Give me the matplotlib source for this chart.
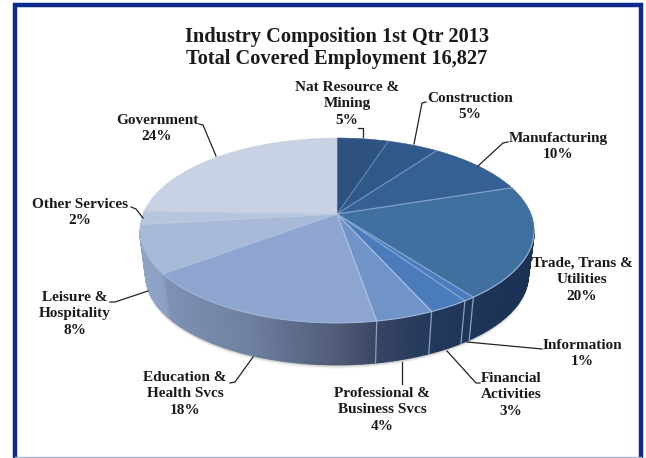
import numpy as np
import matplotlib
matplotlib.use("Agg")
import matplotlib.pyplot as plt
from matplotlib.transforms import Transform

# ----------------------
# Data
# ----------------------
sectors = [
    "Nat Resource &\nMining", "Construction", "Manufacturing",
    "Trade, Trans &\nUtilities", "Information", "Financial\nActivities",
    "Professional &\nBusiness Svcs", "Education &\nHealth Svcs",
    "Leisure &\nHospitality", "Other Services", "Government",
]
# rounded shares printed on the labels
printed_pct = [5, 5, 10, 20, 1, 3, 4, 18, 8, 2, 24]
# slice sizes
slice_size = [5, 5, 10, 19.7, 0.8, 2.8, 4.0, 17.5, 8.4, 2.3, 24.5]

top_colors = ["#2e5280", "#30598a", "#365f93", "#40709f", "#4a7dbd", "#4a7cbb",
              "#7094c8", "#8ea6cf", "#a9bad8", "#b6c5de", "#c8d2e4"]
seam_colors = ["#5f82ad", "#6f92bd", "#7f9fca", "#86a6d2", "#86a6d2", "#a6c0e4",
               "#a6c0e4", "#a9bfe0", "#bccae0", "#c0cce0", None]

label_xy = [(347, 87), (470, 98), (558, 138), (582, 263), (582, 345), (511, 378),
            (382, 393), (185, 377), (75, 297), (80, 204), (157, 120)]

leaders = [
    [(358, 128), (363, 128), (363, 137)],
    [(426, 102), (422, 103), (414, 144)],
    [(508, 142), (503, 143), (478, 166)],
    None,
    [(542, 349), (467, 342)],
    [(480, 383), (476, 383), (447, 351)],
    [(402, 384), (402, 362)],
    [(230, 383), (235, 382), (253, 357)],
    [(110, 302), (115, 302), (148, 291)],
    [(131, 207), (136, 209), (143, 218)],
    [(199, 124), (203, 125), (216, 156)],
]

# ----------------------
# Pie geometry (tilted disc)
# ----------------------
CX, CY = 337, 214
RX, RY = 194, 89.5
TILT = 0.178
BASE_SCALE = 0.97   # bottom disc looks a little smaller
BASE_DROP = 45


class TiltedDisc(Transform):
    input_dims = 2
    output_dims = 2

    def transform_non_affine(self, values):
        x, y = np.asarray(values).T
        w = 1 + TILT * y
        return np.column_stack([CX + RX * x / w, CY - RY * y / w])


def rim(phi):
    # phi in degrees, clockwise from 12 o'clock
    rad = np.radians(phi)
    return TiltedDisc().transform_non_affine(np.column_stack([np.sin(rad), np.cos(rad)]))


def base_rim(phi):
    p = rim(phi)
    return np.column_stack([CX + (p[:, 0] - CX) * BASE_SCALE,
                            CY + (p[:, 1] - CY) * BASE_SCALE + BASE_DROP])


def wall_color(x):
    stops = [140, 162, 165, 250, 300, 340, 378, 430, 535]
    reds = [0x8f, 0x8c, 0x7e, 0x6f, 0x5c, 0x4f, 0x38, 0x23, 0x1b]
    greens = [0xa3, 0xa0, 0x92, 0x7f, 0x6a, 0x5a, 0x45, 0x39, 0x31]
    blues = [0xc7, 0xc2, 0xb5, 0x9e, 0x88, 0x75, 0x62, 0x5c, 0x54]
    return (np.interp(x, stops, reds) / 255, np.interp(x, stops, greens) / 255,
            np.interp(x, stops, blues) / 255)


fig = plt.figure(figsize=(6.46, 4.58), dpi=100)
ax = fig.add_axes([0, 0, 1, 1])

wedges, _ = ax.pie(slice_size, startangle=90, counterclock=False, colors=top_colors,
                   wedgeprops=dict(linewidth=0))
ax.set_aspect("auto")
ax.set_xlim(0, 646)
ax.set_ylim(458, 0)
ax.set_axis_off()

for w, c in zip(wedges, top_colors):
    w.set_transform(TiltedDisc() + ax.transData)
    w.set_edgecolor(c)
    w.set_linewidth(0.4)
    w.set_zorder(5)

# ----------------------
# Side wall
# ----------------------
vis_start = np.degrees(np.arccos(-TILT))
vis_end = 360 - vis_start

# soft shadow below the wall
phis = np.linspace(vis_start, vis_end, 200)
edge = rim(phis)
bottom = base_rim(phis)
for off, alpha in [(4, 0.05), (3, 0.09), (2, 0.14), (1, 0.22)]:
    ax.fill(np.r_[edge[:, 0], bottom[::-1, 0]],
            np.r_[edge[:, 1], bottom[::-1, 1] + off],
            color="#555555", alpha=alpha, lw=0, zorder=1)

strips = np.linspace(vis_start, vis_end, 200)
for a, b in zip(strips[:-1], strips[1:]):
    p = rim(np.array([a, b]))
    q = base_rim(np.array([a, b]))
    ax.fill([p[0, 0], p[1, 0], q[1, 0], q[0, 0]],
            [p[0, 1], p[1, 1], q[1, 1], q[0, 1]],
            color=wall_color(p[:, 0].mean()), lw=1, zorder=2)

# slice seams on the top face and the wall
ends = np.cumsum(slice_size) / np.sum(slice_size) * 360
for e, c in zip(ends, seam_colors):
    if c is None:
        continue
    p = rim(np.array([e]))[0]
    ax.plot([CX, p[0]], [CY, p[1]], color=c, lw=0.9, zorder=6)
    if vis_start < e < vis_end:
        q = base_rim(np.array([e]))[0]
        ax.plot([p[0], q[0]], [p[1], q[1]], color="#8b9fc0", lw=0.9, zorder=3)

# pale highlight where the top face meets the wall
ax.plot(edge[:, 0], edge[:, 1], color="#9fb6d8", lw=0.8, zorder=6)

# ----------------------
# Labels and leader lines
# ----------------------
for name, pct, (x, y), line in zip(sectors, printed_pct, label_xy, leaders):
    ax.text(x, y - 6, f"{name}\n{pct}%", ha="center", va="top", family="Liberation Serif",
            fontweight="bold", fontsize=11, color="#1a1a1a", linespacing=1.34, zorder=7)
    if line:
        xs, ys = zip(*line)
        ax.plot(xs, ys, color="#222222", lw=0.9, zorder=6)

ax.text(337, 48, "Industry Composition 1st Qtr 2013\nTotal Covered Employment 16,827",
        ha="center", va="center", family="Liberation Serif", fontweight="bold",
        fontsize=14.7, color="#1a1a1a", linespacing=1.1, zorder=7)

# ----------------------
# Frame
# ----------------------
ax.plot([15, 15, 641, 641], [457, 5, 5, 457], color="#0b2a8a", lw=3.2,
        solid_joinstyle="miter", zorder=8)
ax.plot([15, 641], [457, 457], color="#aab6d6", lw=1, zorder=8)

fig.savefig("out.png", dpi=100)
